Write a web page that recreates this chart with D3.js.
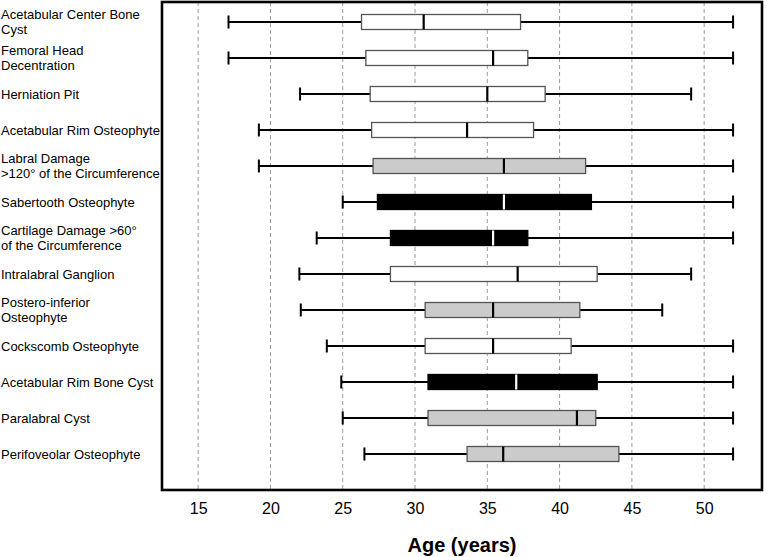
<!DOCTYPE html>
<html>
<head>
<meta charset="utf-8">
<script src="https://cdn.jsdelivr.net/npm/d3@7"></script>
<style>
  html, body { margin: 0; padding: 0; background: #fff; }
  svg { display: block; font-family: "Liberation Sans", Arial, sans-serif; }
</style>
</head>
<body>
<svg id="chart" width="767" height="557"></svg>
<script>
// ---- data ----
const categories = [
  ["Acetabular Center Bone", "Cyst"],
  ["Femoral Head", "Decentration"],
  ["Herniation Pit"],
  ["Acetabular Rim Osteophyte"],
  ["Labral Damage", ">120° of the Circumference"],
  ["Sabertooth Osteophyte"],
  ["Cartilage Damage >60°", "of the Circumference"],
  ["Intralabral Ganglion"],
  ["Postero-inferior", "Osteophyte"],
  ["Cockscomb Osteophyte"],
  ["Acetabular Rim Bone Cyst"],
  ["Paralabral Cyst"],
  ["Perifoveolar Osteophyte"]
];
const whiskerLow  = [17.1, 17.1, 22.05, 19.2, 19.2, 25.0, 23.2, 22.0, 22.1, 23.9, 24.9, 25.0, 26.5];
const quartile1   = [26.3, 26.6, 26.9, 27.0, 27.1, 27.4, 28.3, 28.3, 30.7, 30.7, 30.9, 30.9, 33.6];
const medians     = [30.6, 35.4, 35.0, 33.6, 36.15, 36.15, 35.4, 37.1, 35.4, 35.4, 37.0, 41.2, 36.1];
const quartile3   = [37.3, 37.8, 39.0, 38.2, 41.8, 42.2, 37.8, 42.6, 41.4, 40.8, 42.6, 42.5, 44.1];
const whiskerHigh = [52, 52, 49.1, 52, 52, 52, 52, 49.1, 47.1, 52, 52, 52, 52];
const groups      = ["white", "white", "white", "white", "gray", "black", "black", "white", "gray", "white", "black", "gray", "gray"];
const xTicks      = [15, 20, 25, 30, 35, 40, 45, 50];
const xTitle      = "Age (years)";

// ---- layout ----
const svg = d3.select("#chart");
const pLeft = 162, pRight = 762, pTop = 2, pBottom = 490;

const x = d3.scaleLinear().domain([12.5, 54]).range([pLeft, pRight]);
const y = d3.scaleBand().domain(d3.range(categories.length)).range([4, 472]).padding(0);

const fillColor = { white: "#ffffff", gray: "#cbcbcb", black: "#000000" };
const medianColor = { white: "#000000", gray: "#000000", black: "#ffffff" };

// gridlines
svg.append("g").selectAll("line").data(xTicks).join("line")
  .attr("x1", d => x(d)).attr("x2", d => x(d))
  .attr("y1", pTop).attr("y2", pBottom)
  .attr("stroke", "#9a9a9a").attr("stroke-width", 1)
  .attr("stroke-dasharray", "4,3");

// x axis labels
const axis = d3.axisBottom(x).tickValues(xTicks).tickSize(0).tickPadding(13).tickFormat(d3.format("d"));
const ax = svg.append("g").attr("transform", `translate(0,${pBottom})`).call(axis);
ax.select(".domain").remove();
ax.selectAll("text").attr("font-size", 16).attr("fill", "#000")
  .attr("font-family", "'Liberation Sans', Arial, sans-serif");

// boxes
const idx = d3.range(categories.length);
const rows = svg.append("g").selectAll("g").data(idx).join("g")
  .attr("transform", i => `translate(0,${y(i) + y.bandwidth() / 2})`);

const bh = 15, capH = 13;
rows.append("line")
  .attr("x1", i => x(whiskerLow[i])).attr("x2", i => x(quartile1[i]))
  .attr("stroke", "#000").attr("stroke-width", 2);
rows.append("line")
  .attr("x1", i => x(quartile3[i])).attr("x2", i => x(whiskerHigh[i]))
  .attr("stroke", "#000").attr("stroke-width", 2);
rows.append("line")
  .attr("x1", i => x(whiskerLow[i])).attr("x2", i => x(whiskerLow[i]))
  .attr("y1", -capH / 2).attr("y2", capH / 2)
  .attr("stroke", "#000").attr("stroke-width", 2);
rows.append("line")
  .attr("x1", i => x(whiskerHigh[i])).attr("x2", i => x(whiskerHigh[i]))
  .attr("y1", -capH / 2).attr("y2", capH / 2)
  .attr("stroke", "#000").attr("stroke-width", 2);
rows.append("rect")
  .attr("x", i => x(quartile1[i])).attr("y", -bh / 2)
  .attr("width", i => x(quartile3[i]) - x(quartile1[i])).attr("height", bh)
  .attr("fill", i => fillColor[groups[i]])
  .attr("stroke", i => groups[i] === "black" ? "#000" : "#555")
  .attr("stroke-width", 1.3);
rows.append("line")
  .attr("x1", i => x(medians[i])).attr("x2", i => x(medians[i]))
  .attr("y1", -bh / 2).attr("y2", bh / 2)
  .attr("stroke", i => medianColor[groups[i]]).attr("stroke-width", 2.2);

// row labels
svg.append("g").selectAll("text").data(idx).join("text")
  .attr("x", 1)
  .attr("y", i => y(i) + y.bandwidth() / 2)
  .attr("font-size", 13).attr("fill", "#000")
  .each(function (i) {
    const lines = categories[i];
    const t = d3.select(this);
    const lh = 15;
    const start = -(lines.length - 1) * lh / 2;
    lines.forEach((ln, k) => {
      t.append("tspan").attr("x", 1)
        .attr("dy", k === 0 ? (start + 4.5) : lh)
        .text(ln);
    });
  });

// frame
svg.append("rect")
  .attr("x", pLeft).attr("y", pTop)
  .attr("width", pRight - pLeft).attr("height", pBottom - pTop)
  .attr("fill", "none").attr("stroke", "#000").attr("stroke-width", 2.6);

// x title
svg.append("text")
  .attr("x", (pLeft + pRight) / 2).attr("y", 552)
  .attr("text-anchor", "middle")
  .attr("font-size", 20).attr("font-weight", "bold").attr("fill", "#000")
  .text(xTitle);
</script>
</body>
</html>
